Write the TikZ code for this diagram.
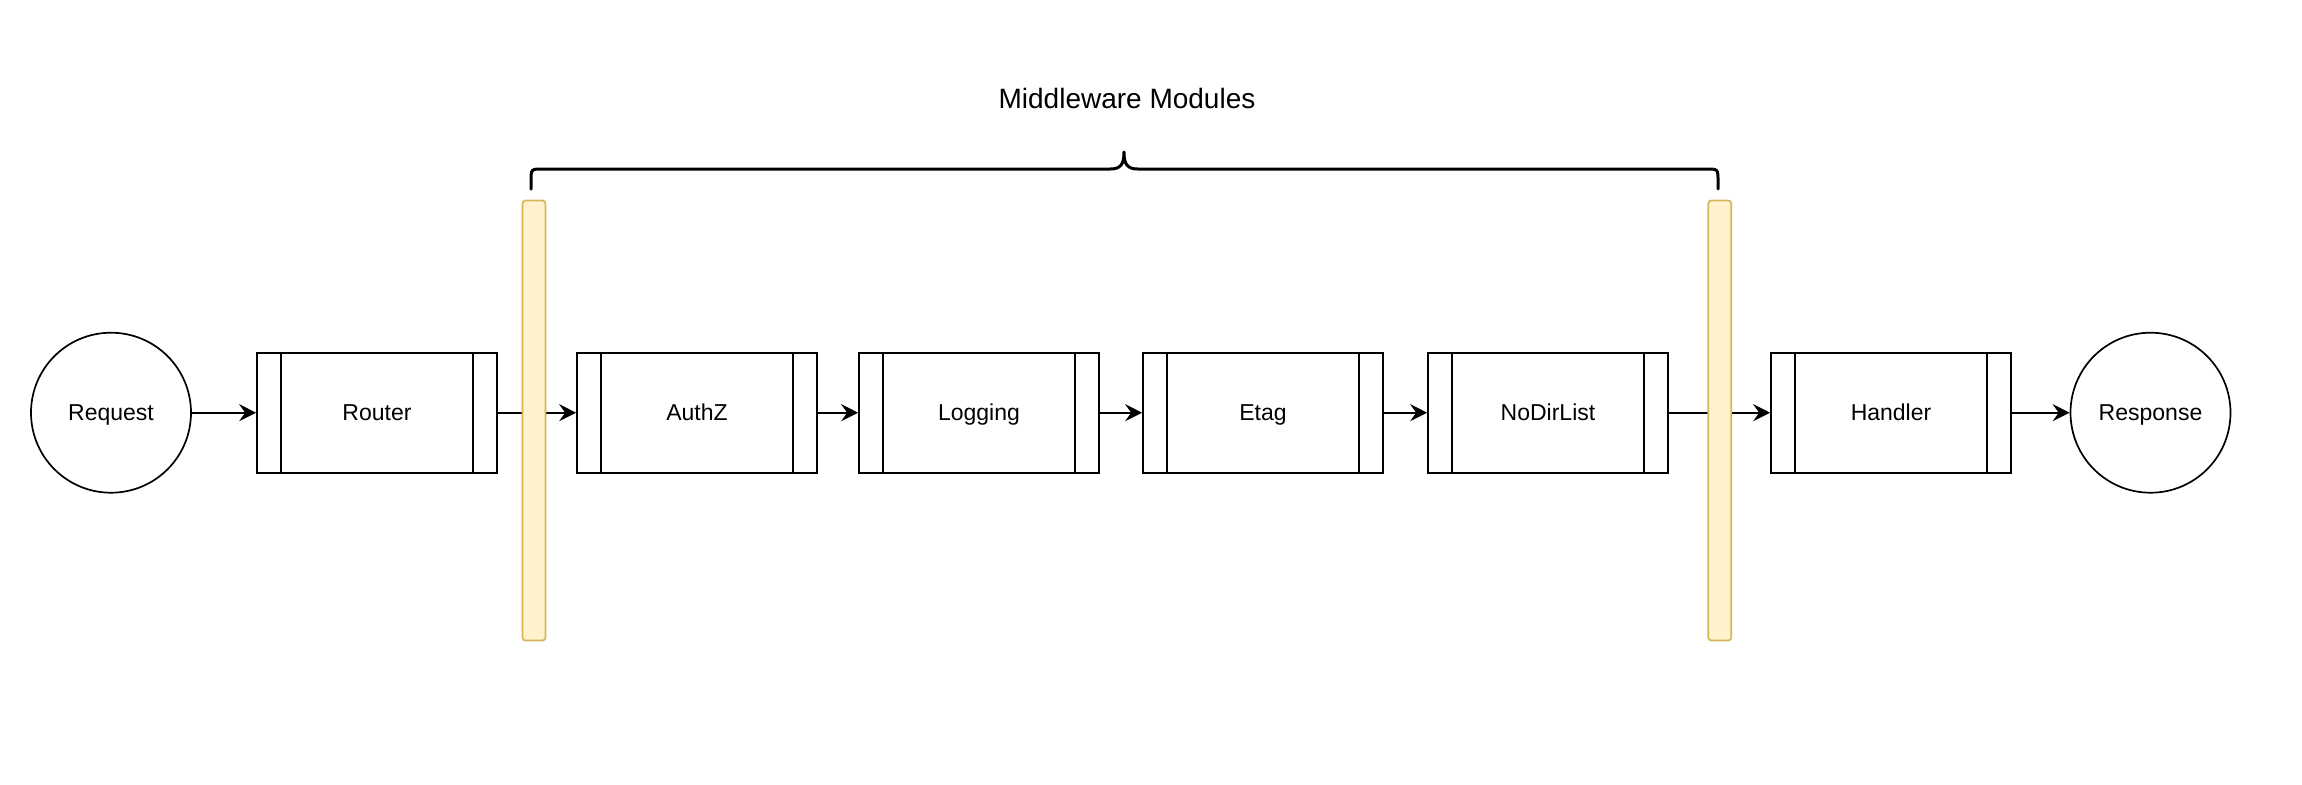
\documentclass[tikz,border=0pt]{standalone}
\usepackage{fontspec}
\setmainfont{Liberation Sans}
\usetikzlibrary{arrows.meta}
\definecolor{barfill}{HTML}{FFF2CC}
\definecolor{barline}{HTML}{D6B656}
\begin{document}
\begin{tikzpicture}[x=0.5pt,y=-0.5pt,
  lbl/.style={font=\fontsize{11.5pt}{13pt}\selectfont, text height=8.2pt, text depth=0pt},
  proc/.style={lbl, draw, line width=0.85pt, rectangle, minimum width=120pt, minimum height=60pt,
    inner sep=0pt,
    path picture={
      \draw[line width=0.85pt] ([xshift=12pt]path picture bounding box.north west) -- ([xshift=12pt]path picture bounding box.south west);
      \draw[line width=0.85pt] ([xshift=-12pt]path picture bounding box.north east) -- ([xshift=-12pt]path picture bounding box.south east);
    }},
  term/.style={lbl, draw, line width=0.85pt, circle, minimum size=80pt, inner sep=0pt},
  bar/.style={draw=barline, fill=barfill, line width=0.85pt, rectangle, rounded corners=1.5pt,
    minimum width=11.5pt, minimum height=220pt, inner sep=0pt},
  flow/.style={-{Stealth[length=8.5pt,width=8.5pt,inset=3pt]}, line width=0.85pt},
  brace/.style={line width=1.5pt, line cap=round, line join=round}
]
\useasboundingbox (0,0) rectangle (2302,784);

\node[term] (req) at (111,412.7) {Request};
\node[proc] (router) at (377,412.7) {Router};
\node[proc] (authz) at (697,412.7) {AuthZ};
\node[proc] (logging) at (979,412.7) {Logging};
\node[proc] (etag) at (1263,412.7) {Etag};
\node[proc] (nodir) at (1548,412.7) {NoDirList};
\node[proc] (handler) at (1891,412.7) {Handler};
\node[term] (resp) at (2150.5,412.7) {Response};

\draw[flow] (req) -- (router);
\draw[flow] (router) -- (authz);
\draw[flow] (authz) -- (logging);
\draw[flow] (logging) -- (etag);
\draw[flow] (etag) -- (nodir);
\draw[flow] (nodir) -- (handler);
\draw[flow] (handler) -- (resp);

\node[bar] (bar1) at (534,420.5) {};
\node[bar] (bar2) at (1719.8,420.5) {};

\draw[brace] (531,189) -- (531,181) .. controls (531,169) .. (543,169) -- (1110,169)
  .. controls (1121,169) and (1124,164) .. (1124,152)
  .. controls (1124,164) and (1127,169) .. (1138,169) -- (1706,169)
  .. controls (1718,169) .. (1718,181) -- (1718,189);

\node[font=\fontsize{14pt}{16pt}\selectfont, text height=10pt, text depth=0pt] (title) at (1127,98) {Middleware Modules};
\end{tikzpicture}
\end{document}
